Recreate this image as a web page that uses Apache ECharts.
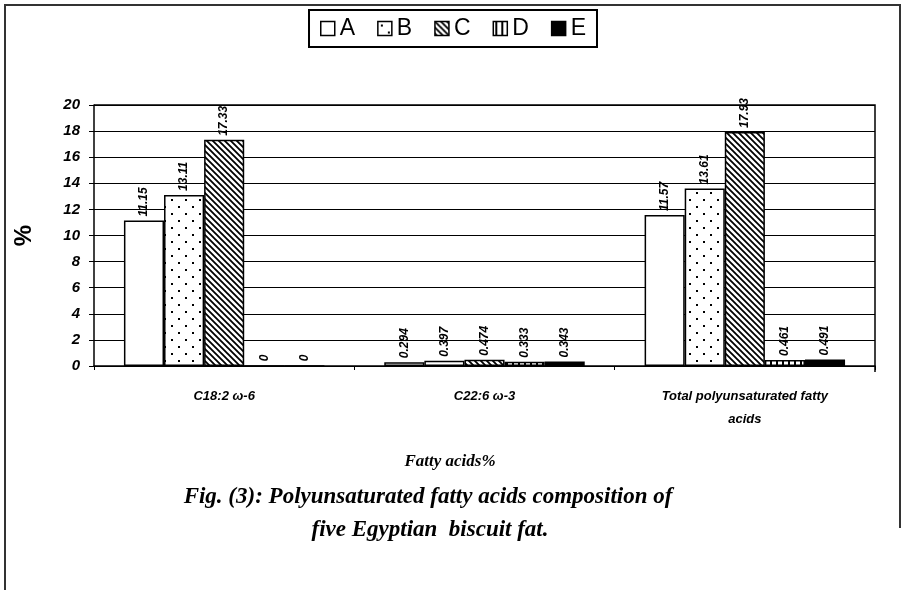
<!DOCTYPE html>
<html>
<head>
<meta charset="utf-8">
<script src="https://cdn.jsdelivr.net/npm/echarts@6/dist/echarts.min.js"></script>
<style>
  html, body { margin: 0; padding: 0; background: #fff; }
  #chart { width: 906px; height: 590px; }
</style>
</head>
<body>
<div id="chart"></div>
<script>
// data
const categories = ['C18:2 ω-6', 'C22:6 ω-3', 'Total polyunsaturated fatty\nacids']
const seriesNames = ['A', 'B', 'C', 'D', 'E']
const valuesA = [11.15, 0.294, 11.57]
const valuesB = [13.11, 0.397, 13.61]
const valuesC = [17.33, 0.474, 17.93]
const valuesD = [0, 0.333, 0.461]
const valuesE = [0, 0.343, 0.491]
const yTicks = [0, 2, 4, 6, 8, 10, 12, 14, 16, 18, 20]

const allValues = [valuesA, valuesB, valuesC, valuesD, valuesE]

// hatch fills, drawn on small canvases
const makePattern = (size, draw) => {
  const c = document.createElement('canvas')
  c.width = size
  c.height = size
  const ctx = c.getContext('2d')
  ctx.fillStyle = '#fff'
  ctx.fillRect(0, 0, size, size)
  ctx.fillStyle = '#000'
  ctx.strokeStyle = '#000'
  draw(ctx, size)
  return { image: c, repeat: 'repeat' }
}

const dots = makePattern(14, (ctx) => {
  ctx.fillRect(3, 3, 2, 2)
  ctx.fillRect(10, 10, 2, 2)
})

const diag = makePattern(6, (ctx, s) => {
  ctx.lineWidth = 1.8
  ctx.beginPath()
  ctx.moveTo(-1, -1); ctx.lineTo(s + 1, s + 1)
  ctx.moveTo(-1, s - 1); ctx.lineTo(1, s + 1)
  ctx.moveTo(s - 1, -1); ctx.lineTo(s + 1, 1)
  ctx.stroke()
})

const vert = makePattern(6, (ctx, s) => {
  ctx.fillRect(2, 0, 2, s)
})

const fills = ['#fff', dots, diag, vert, '#000']

const chart = echarts.init(document.getElementById('chart'), null, { renderer: 'canvas' })

const series = seriesNames.map((name, i) => ({
  name,
  type: 'bar',
  data: allValues[i],
  barGap: '0%',
  barCategoryGap: '23%',
  itemStyle: { color: fills[i], borderColor: '#000', borderWidth: 1.5 },
  label: {
    show: true,
    position: 'top',
    rotate: 90,
    align: 'left',
    verticalAlign: 'middle',
    distance: 4,
    color: '#000',
    fontFamily: 'Liberation Sans',
    fontStyle: 'italic',
    fontWeight: 'bold',
    fontSize: 12,
    formatter: (p) => String(p.value)
  }
}))

const captionStyle = {
  fontFamily: 'Liberation Serif',
  fontStyle: 'italic',
  fontWeight: 'bold',
  fill: '#000',
  textAlign: 'center',
  textVerticalAlign: 'middle'
}

const option = {
  animation: false,
  backgroundColor: '#fff',
  legend: {
    data: seriesNames,
    top: 10,
    left: 'center',
    icon: 'rect',
    itemWidth: 14,
    itemHeight: 14,
    itemGap: 22,
    padding: [7, 11, 7, 11],
    borderColor: '#000',
    borderWidth: 2,
    textStyle: { fontFamily: 'Liberation Sans', fontSize: 23, color: '#000' },
    itemStyle: { borderColor: '#000', borderWidth: 1.5 }
  },
  grid: { left: 94, right: 31, top: 105, bottom: 224 },
  xAxis: {
    type: 'category',
    data: categories,
    axisLine: { lineStyle: { color: '#000', width: 1.5 } },
    axisTick: { show: true, length: 4, lineStyle: { color: '#000' } },
    axisLabel: {
      margin: 19,
      color: '#000',
      fontFamily: 'Liberation Sans',
      fontStyle: 'italic',
      fontWeight: 'bold',
      fontSize: 13,
      lineHeight: 23
    }
  },
  yAxis: {
    type: 'value',
    min: 0,
    max: 20,
    interval: 2,
    name: '%',
    nameLocation: 'middle',
    nameRotate: 90,
    nameGap: 58,
    nameTextStyle: { fontFamily: 'Liberation Sans', fontWeight: 'bold', fontSize: 24, color: '#000' },
    axisLine: { show: true, lineStyle: { color: '#000', width: 1.5 } },
    axisTick: { show: true, length: 5, lineStyle: { color: '#000' } },
    splitLine: { lineStyle: { color: '#000', width: 1.2 } },
    axisLabel: {
      margin: 14,
      color: '#000',
      fontFamily: 'Liberation Sans',
      fontStyle: 'italic',
      fontWeight: 'bold',
      fontSize: 15,
      formatter: (v) => (yTicks.includes(v) ? String(v) : '')
    }
  },
  graphic: [
    {
      type: 'polyline',
      silent: true,
      shape: { points: [[5, 590], [5, 5], [900, 5], [900, 528]] },
      style: { stroke: '#333', lineWidth: 2, fill: null }
    },
    {
      type: 'polyline',
      silent: true,
      shape: { points: [[94, 105], [875, 105], [875, 372]] },
      style: { stroke: '#000', lineWidth: 1.5, fill: null }
    },
    {
      type: 'text', silent: true, x: 450, y: 462,
      style: Object.assign({ text: 'Fatty acids%', fontSize: 17 }, captionStyle)
    },
    {
      type: 'text', silent: true, x: 428, y: 497,
      style: Object.assign({ text: 'Fig. (3): Polyunsaturated fatty acids composition of', fontSize: 23 }, captionStyle)
    },
    {
      type: 'text', silent: true, x: 430, y: 530,
      style: Object.assign({ text: 'five Egyptian  biscuit fat.', fontSize: 23 }, captionStyle)
    }
  ],
  series
}

chart.setOption(option)
</script>
</body>
</html>
